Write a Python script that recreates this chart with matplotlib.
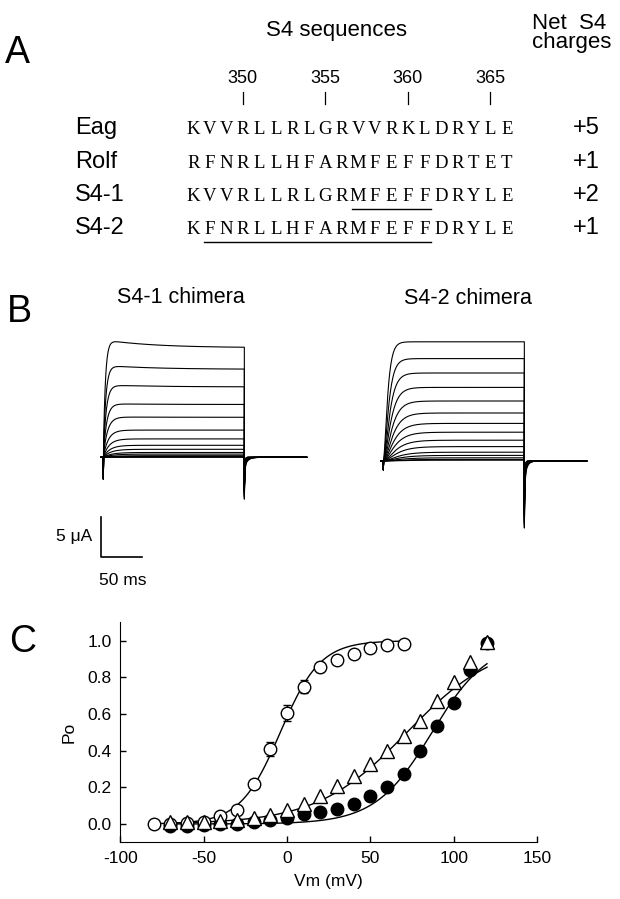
import numpy as np
import matplotlib
matplotlib.use("Agg")
import matplotlib.pyplot as plt

plt.rcParams['font.family'] = ['Liberation Sans', 'DejaVu Sans']
plt.rcParams['axes.unicode_minus'] = False

W, H = 620, 899

# ---- panel A data ----
seq_names = ["Eag", "Rolf", "S4-1", "S4-2"]
seqs = ["KVVRLLRLGRVVRKLDRYLE",
        "RFNRLLHFARMFEFFDRTET",
        "KVVRLLRLGRMFEFFDRYLE",
        "KFNRLLHFARMFEFFDRYLE"]
charges = ["+5", "+1", "+2", "+1"]
first_residue = 347
marked_residues = [350, 355, 360, 365]
underlines = {2: (10, 14), 3: (1, 14)}   # row -> (first idx, last idx)

# ---- panel B data (uA at end of step) ----
s41_amp = [13.7, 11.0, 8.8, 6.6, 5.0, 3.4, 2.3, 1.5, 1.0, 0.6, 0.4, 0.2, 0.1, 0.05, 0.0]
s41_droop = [1.0, 0.5, 0.25, 0.1, 0.05, 0, 0, 0, 0, 0, 0, 0, 0, 0, 0]
s41_tau = [2.5, 3, 3.5, 4, 5, 6, 7, 8, 9, 10, 11, 12, 13, 14, 15]
s42_amp = [14.9, 12.8, 11.0, 9.2, 7.5, 6.0, 4.7, 3.6, 2.6, 1.8, 1.1, 0.7, 0.4, 0.2, 0.1]
s42_tau = [4, 5, 6, 7, 8, 9, 10, 11, 12, 13, 14, 15, 16, 17, 18]
step_ms = 172
end_ms = 248

# ---- panel C data ----
vm_open = [-80, -70, -60, -50, -40, -30, -20, -10, 0, 10, 20, 30, 40, 50, 60, 70]
po_open = [0.0, 0.0, 0.005, 0.01, 0.045, 0.075, 0.22, 0.41, 0.605, 0.75, 0.855,
           0.895, 0.93, 0.963, 0.975, 0.98]
err_open = [0, 0, 0, 0, 0, 0, 0.02, 0.04, 0.044, 0.036, 0.027, 0.015, 0, 0, 0, 0]
vm_tri = [-70, -60, -50, -40, -30, -20, -10, 0, 10, 20, 30, 40, 50, 60, 70, 80,
          90, 100, 110, 120]
po_tri = [0.01, 0.01, 0.01, 0.015, 0.02, 0.03, 0.05, 0.075, 0.11, 0.15, 0.205,
          0.26, 0.327, 0.398, 0.48, 0.562, 0.671, 0.776, 0.885, 0.995]
vm_fill = vm_tri
po_fill = [-0.01, -0.01, -0.005, 0.0, 0.0, 0.01, 0.02, 0.035, 0.055, 0.065, 0.082,
           0.107, 0.153, 0.204, 0.273, 0.40, 0.536, 0.662, 0.84, 0.985]
# Boltzmann fits: (V1/2, slope, vmin, vmax)
fit_open = (-4, 12, -80, 70)
fit_tri = (72, 27, -70, 120)
fit_fill = (87, 17, -70, 120)


def fx(px):
    return px / W


def fy(py):
    return 1 - py / H


fig = plt.figure(figsize=(6.2, 8.99), dpi=100)

# ---------------- panel A ----------------
fig.text(fx(5), fy(63), "A", fontsize=27, va="baseline")
fig.text(fx(337), fy(36), "S4 sequences", fontsize=16, ha="center", va="baseline")
fig.text(fx(532), fy(29), "Net  S4", fontsize=16, va="baseline")
fig.text(fx(532), fy(48), "charges", fontsize=16, va="baseline")

x0, dx = 185, 16.5
baselines = [134, 167.5, 201, 234]
for pos in marked_residues:
    cx = x0 + (pos - first_residue + 0.5) * dx
    fig.text(fx(cx), fy(83), str(pos), fontsize=13, ha="center", va="baseline")
    fig.add_artist(plt.Line2D([fx(cx), fx(cx)], [fy(91.5), fy(103.5)],
                              color="black", lw=0.9))

for r, (name, seq, ch) in enumerate(zip(seq_names, seqs, charges)):
    yb = baselines[r]
    fig.text(fx(75), fy(yb), name, fontsize=17, va="baseline")
    fig.text(fx(600), fy(yb), ch, fontsize=17, ha="right", va="baseline")
    for i, c in enumerate(seq):
        fig.text(fx(x0 + (i + 0.5) * dx), fy(yb), c, fontsize=13.5,
                 family="Liberation Serif", ha="center", va="baseline")
    if r in underlines:
        a, b = underlines[r]
        fig.add_artist(plt.Line2D([fx(x0 + a * dx + 2), fx(x0 + (b + 1) * dx - 2)],
                                  [fy(yb + 7.5), fy(yb + 7.5)],
                                  color="black", lw=1.0))

# ---------------- panel B ----------------
fig.text(fx(7), fy(322), "B", fontsize=27, va="baseline")
fig.text(fx(181), fy(303), "S4-1 chimera", fontsize=15.5, ha="center", va="baseline")
fig.text(fx(468), fy(304), "S4-2 chimera", fontsize=15.5, ha="center", va="baseline")

ms_per_px = 50 / 41
px_per_ua = 8.0
axB = fig.add_axes([0, fy(600), 1, 300 / H])
axB.axis("off")
axB.set_xlim(-103.3 * ms_per_px, (W - 103.3) * ms_per_px)
axB.set_ylim(-(600 - 457.3) / px_per_ua, (457.3 - 300) / px_per_ua)


def trace(amp, tau, droop, power, cap_on, cap_off, tail_k, tail_tau):
    t_on = np.linspace(0.4, step_ms, 600)
    rise = (1 - np.exp(-t_on / tau)) ** power
    i_on = rise * (amp + droop * np.exp(-t_on / 60.0))
    t_off = np.linspace(step_ms, end_ms, 400)
    i_off = -(cap_off * np.exp(-(t_off - step_ms) / 0.6)
              + tail_k * amp * np.exp(-(t_off - step_ms) / tail_tau))
    t = np.concatenate([[-3, 0, 0.01], t_on, t_off])
    i = np.concatenate([[0, 0, cap_on], i_on, i_off])
    return t, i


for amp, tau, dr in zip(s41_amp, s41_tau, s41_droop):
    t, i = trace(amp, tau, dr, 1, -2.7, 4.0, 0.09, 4.0)
    axB.plot(t, i, color="black", lw=0.8)

off_t = (383.3 - 103.3) * ms_per_px
off_i = -(461 - 457.3) / px_per_ua
for amp, tau in zip(s42_amp, s42_tau):
    t, i = trace(amp, tau, 0, 2, -1.1, 6.0, 0.16, 3.0)
    axB.plot(t + off_t, i + off_i, color="black", lw=0.8)

# scale bar: 5 uA, 50 ms
sb_x = (100.7 - 103.3) * ms_per_px
sb_y = (457.3 - 556.7) / px_per_ua
axB.plot([sb_x, sb_x, sb_x + 50], [sb_y + 5, sb_y, sb_y], color="black", lw=1.2)
fig.text(fx(92), fy(541), "5 \u03bcA", fontsize=12.5, ha="right", va="baseline")
fig.text(fx(122.5), fy(585), "50 ms", fontsize=12.5, ha="center", va="baseline")

# ---------------- panel C ----------------
fig.text(fx(9), fy(652), "C", fontsize=27, va="baseline")
axC = fig.add_axes([fx(120.3), fy(842.3), (537 - 120.3) / W, (842.3 - 622.4) / H])
for side in ["top", "right"]:
    axC.spines[side].set_visible(False)
axC.set_xlim(-100, 150)
axC.set_ylim(-0.1, 1.1)


def boltz(v, vh, k):
    return 1 / (1 + np.exp((vh - v) / k))


for vh, k, vmin, vmax in [fit_open, fit_tri, fit_fill]:
    v = np.linspace(vmin, vmax, 300)
    axC.plot(v, boltz(v, vh, k), color="black", lw=1.0, zorder=2)

axC.plot(vm_fill, po_fill, "o", ms=9, mfc="black", mec="black", zorder=3)
axC.errorbar(vm_open, po_open, yerr=err_open, fmt="o", ms=9, mfc="white",
             mec="black", mew=1.0, ecolor="black", elinewidth=1.0, capsize=3,
             zorder=4)
axC.plot(vm_tri, po_tri, "^", ms=10, mfc="white", mec="black", mew=1.0, zorder=5)

axC.set_xticks([-100, -50, 0, 50, 100, 150])
axC.set_yticks([0, 0.2, 0.4, 0.6, 0.8, 1.0])
axC.set_yticklabels(["0.0", "0.2", "0.4", "0.6", "0.8", "1.0"])
axC.tick_params(direction="in", length=4, width=1, labelsize=12.5, pad=6)
axC.set_xlabel("Vm (mV)", fontsize=12.5, labelpad=6)
axC.set_ylabel("Po", fontsize=12.5, labelpad=8)

fig.savefig("out.png", dpi=100)
